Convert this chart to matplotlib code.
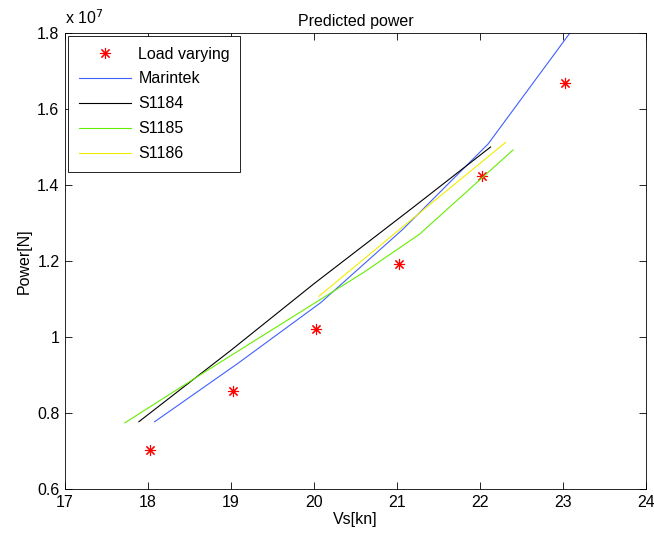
import matplotlib
matplotlib.use("Agg")
import matplotlib.pyplot as plt
from matplotlib.ticker import FuncFormatter

plt.rcParams['font.family'] = ['Liberation Sans', 'DejaVu Sans']

# Data (power in W)
load_vs = [18.03, 19.03, 20.03, 21.03, 22.03, 23.03]
load_p = [0.703e7, 0.859e7, 1.022e7, 1.191e7, 1.423e7, 1.669e7]

marintek_vs = [18.08, 19.08, 20.08, 21.08, 22.10, 23.12]
marintek_p = [0.777e7, 0.93e7, 1.09e7, 1.285e7, 1.508e7, 1.81e7]

s1184_vs = [17.89, 19.0, 20.0, 21.19, 22.13]
s1184_p = [0.777e7, 0.965e7, 1.14e7, 1.34e7, 1.50e7]

s1185_vs = [17.72, 18.7, 19.7, 20.6, 21.27, 22.40]
s1185_p = [0.774e7, 0.91e7, 1.047e7, 1.17e7, 1.27e7, 1.492e7]

s1186_vs = [20.06, 21.11, 22.31]
s1186_p = [1.107e7, 1.297e7, 1.512e7]

xticks = [17, 18, 19, 20, 21, 22, 23, 24]
yticks = [0.6e7, 0.8e7, 1.0e7, 1.2e7, 1.4e7, 1.6e7, 1.8e7]

FS = 11.5

fig = plt.figure(figsize=(6.54, 5.41), dpi=100)
ax = fig.add_axes([0.0994, 0.0961, 0.888, 0.843])

ax.plot(load_vs, load_p, linestyle='none', marker=(8, 2, 0), markersize=8,
        markeredgewidth=0.8, color='#ff0000', label='Load varying')
ax.plot(marintek_vs, marintek_p, color='#4060ff', lw=0.8, label='Marintek')
ax.plot(s1184_vs, s1184_p, color='#000000', lw=0.8, label='S1184')
ax.plot(s1185_vs, s1185_p, color='#66ee00', lw=0.8, label='S1185')
ax.plot(s1186_vs, s1186_p, color='#eeee00', lw=0.8, label='S1186')

ax.set_xlim(17, 24)
ax.set_ylim(0.6e7, 1.8e7)
ax.set_xticks(xticks)
ax.set_yticks(yticks)
ax.yaxis.set_major_formatter(FuncFormatter(lambda v, p: '%g' % round(v / 1e7, 4)))
ax.tick_params(direction='in', top=True, right=True, labelsize=FS, length=5, width=0.6, pad=4)
for s in ax.spines.values():
    s.set_linewidth(0.6)

ax.text(0.0, 1.012, r'x 10$^7$', transform=ax.transAxes, fontsize=FS, ha='left', va='bottom')
ax.set_title('Predicted power', fontsize=FS, pad=5)
ax.set_xlabel('Vs[kn]', fontsize=FS, labelpad=2)
ax.set_ylabel('Power[N]', fontsize=FS, labelpad=4)

leg = ax.legend(loc='upper left', fontsize=FS, fancybox=False, framealpha=1,
                edgecolor='black', borderaxespad=0.2, handlelength=3.3,
                handletextpad=0.45, borderpad=0.65,
                numpoints=1, labelspacing=0.62)
leg.get_frame().set_linewidth(0.6)

fig.savefig('out.png', dpi=100)
